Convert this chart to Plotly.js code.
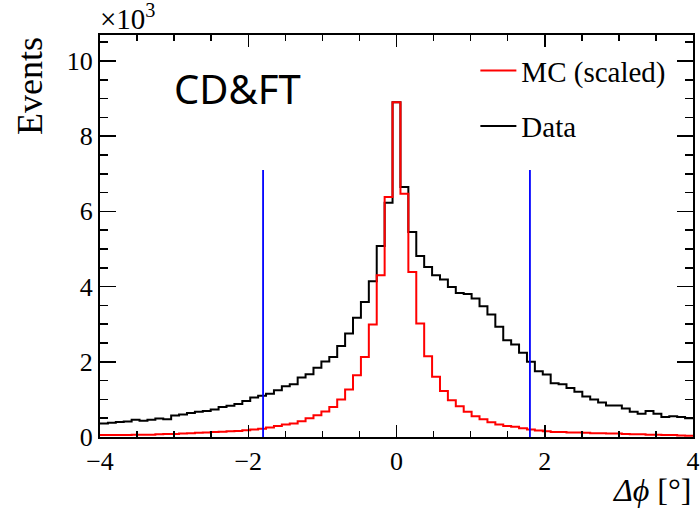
<!DOCTYPE html>
<html>
<head>
<meta charset="utf-8">
<script src="https://cdn.plot.ly/plotly-3.0.1.min.js"></script>
<style>
  html, body { margin: 0; padding: 0; background: #ffffff; }
  #chart { width: 700px; height: 508px; }
</style>
</head>
<body>
<div id="chart"></div>
<script>
// Histogram binning (75 equal bins from -4 to 4 degrees)
const xMin = -4;
const xMax = 4;
const nBins = 75;

// Data counts per bin, in units of 10^3 events
const dataCounts = [
  0.36, 0.38, 0.40, 0.41, 0.46, 0.43, 0.46, 0.49, 0.47, 0.57,
  0.60, 0.64, 0.67, 0.69, 0.73, 0.80, 0.83, 0.88, 0.96, 1.05,
  1.10, 1.15, 1.24, 1.35, 1.40, 1.58, 1.67, 1.84, 2.01, 2.13,
  2.42, 2.75, 3.17, 3.59, 4.14, 5.08, 6.23, 8.90, 6.65, 5.45,
  4.81, 4.52, 4.30, 4.19, 3.99, 3.83, 3.80, 3.68, 3.48, 3.26,
  2.93, 2.57, 2.46, 2.24, 2.00, 1.75, 1.66, 1.43, 1.40, 1.30,
  1.20, 1.08, 1.00, 0.92, 0.84, 0.84, 0.76, 0.67, 0.62, 0.69,
  0.62, 0.53, 0.55, 0.53, 0.50
];

// MC (scaled) counts per bin, in units of 10^3 events
const mcCounts = [
  0.05, 0.05, 0.05, 0.05, 0.06, 0.06, 0.06, 0.07, 0.08, 0.08,
  0.09, 0.10, 0.11, 0.12, 0.13, 0.14, 0.15, 0.16, 0.18, 0.20,
  0.22, 0.25, 0.29, 0.33, 0.36, 0.42, 0.50, 0.58, 0.68, 0.80,
  1.00, 1.26, 1.64, 2.13, 2.99, 4.30, 6.38, 8.90, 6.47, 4.39,
  3.02, 2.15, 1.60, 1.22, 0.98, 0.82, 0.67, 0.55, 0.47, 0.39,
  0.33, 0.29, 0.27, 0.23, 0.20, 0.17, 0.15, 0.13, 0.13, 0.12,
  0.12, 0.11, 0.10, 0.10, 0.09, 0.09, 0.08, 0.07, 0.07, 0.06,
  0.06, 0.05, 0.05, 0.04, 0.03
];

// Selection cut positions (degrees) and drawn height (10^3 events)
const cutPositions = [-1.8, 1.8];
const cutHeight = 7.1;

// Labels
const seriesNames = ["MC (scaled)", "Data"];
const xTickVals = [-4, -2, 0, 2, 4];
const yTickVals = [0, 2, 4, 6, 8, 10];

// ---- build step outlines from the bin contents ----
const binWidth = (xMax - xMin) / nBins;
function stepXY(counts) {
  const xs = [], ys = [];
  for (let i = 0; i < counts.length; i++) {
    xs.push(xMin + i * binWidth);
    ys.push(counts[i]);
  }
  xs.push(xMin + counts.length * binWidth);
  ys.push(counts[counts.length - 1]);
  return {x: xs, y: ys};
}

const dStep = stepXY(dataCounts);
const mStep = stepXY(mcCounts);

const traces = [
  {
    type: 'scatter', mode: 'lines', name: seriesNames[1],
    x: dStep.x, y: dStep.y,
    line: {shape: 'hv', color: '#000000', width: 2},
    legendrank: 2, legendgroup: 'data',
    hoverinfo: 'skip'
  },
  {
    type: 'scatter', mode: 'lines', name: seriesNames[0],
    x: mStep.x, y: mStep.y,
    line: {shape: 'hv', color: '#ff0000', width: 2},
    legendrank: 1, legendgroup: 'mc',
    hoverinfo: 'skip'
  }
];
cutPositions.forEach(function (c) {
  traces.push({
    type: 'scatter', mode: 'lines', showlegend: false,
    x: [c, c], y: [0, cutHeight],
    line: {color: '#0000ff', width: 1.8},
    hoverinfo: 'skip'
  });
});

const serif = 'Liberation Serif, Times New Roman, serif';

const layout = {
  width: 700, height: 508,
  paper_bgcolor: '#ffffff', plot_bgcolor: '#ffffff',
  margin: {l: 100, r: 7, t: 35, b: 71},
  showlegend: true,
  legend: {
    x: 0.633, xanchor: 'left',
    y: 0.975, yanchor: 'top',
    bgcolor: 'rgba(0,0,0,0)',
    font: {family: serif, size: 29, color: '#000000'},
    tracegroupgap: 15,
    itemwidth: 36
  },
  xaxis: {
    range: [xMin, xMax],
    tickvals: xTickVals,
    ticks: 'inside', ticklen: 12, tickwidth: 1.5, tickcolor: '#000000',
    minor: {dtick: 0.5, ticks: 'inside', ticklen: 6, tickwidth: 1.5, tickcolor: '#000000'},
    showline: true, linecolor: '#000000', linewidth: 2, mirror: 'ticks',
    showgrid: false, zeroline: false,
    tickfont: {family: serif, size: 26, color: '#000000'}
  },
  yaxis: {
    range: [0, 10.69],
    tickvals: yTickVals,
    ticks: 'inside', ticklen: 16, tickwidth: 1.5, tickcolor: '#000000',
    minor: {dtick: 0.5, ticks: 'inside', ticklen: 8, tickwidth: 1.5, tickcolor: '#000000'},
    showline: true, linecolor: '#000000', linewidth: 2, mirror: 'ticks',
    showgrid: false, zeroline: false,
    tickfont: {family: serif, size: 26, color: '#000000'}
  },
  annotations: [
    {
      xref: 'paper', yref: 'paper', x: -0.003, y: 0.995, xanchor: 'left', yanchor: 'bottom',
      text: '×10<sup>3</sup>', showarrow: false,
      font: {family: serif, size: 29, color: '#000000'}
    },
    {
      xref: 'paper', yref: 'paper', x: -0.118, y: 1.0, xanchor: 'center', yanchor: 'top',
      text: 'Events', textangle: -90, showarrow: false,
      font: {family: serif, size: 36, color: '#000000'}
    },
    {
      xref: 'paper', yref: 'paper', x: 1.0, y: -0.132, xanchor: 'right', yanchor: 'middle',
      text: '<i>Δϕ</i> [°]', showarrow: false,
      font: {family: serif, size: 32, color: '#000000'}
    },
    {
      xref: 'paper', yref: 'paper', x: 0.121, y: 0.868, xanchor: 'left', yanchor: 'middle',
      text: 'CD&amp;FT', showarrow: false,
      font: {family: 'Noto Sans, Open Sans, sans-serif', size: 40, color: '#000000'}
    }
  ]
};

Plotly.newPlot('chart', traces, layout, {staticPlot: true, displayModeBar: false});
</script>
</body>
</html>
